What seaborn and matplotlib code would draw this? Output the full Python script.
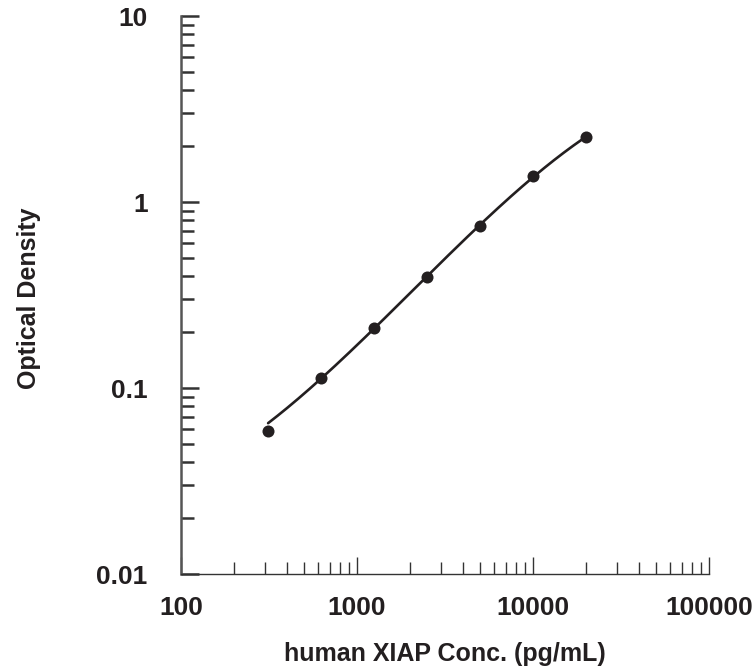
import numpy as np
import pandas as pd
import matplotlib
matplotlib.use("Agg")
import matplotlib.pyplot as plt
import seaborn as sns
from matplotlib.ticker import LogLocator, FixedLocator, FixedFormatter, NullFormatter

sns.set_theme(style="white")
plt.rcParams['font.family'] = ['Liberation Sans', 'DejaVu Sans']

# Data
concentration = [312.5, 625, 1250, 2500, 5000, 10000, 20000]
optical_density = [0.0585, 0.113, 0.209, 0.397, 0.746, 1.38, 2.23]
# fitted standard curve values read at the same concentrations
curve_od = [0.0645, 0.113, 0.209, 0.397, 0.746, 1.38, 2.23]

x_ticks = [100, 1000, 10000, 100000]
x_tick_labels = ["100", "1000", "10000", "100000"]
y_ticks = [0.01, 0.1, 1, 10]
y_tick_labels = ["0.01", "0.1", "1", "10"]

ink = "#231f20"

df = pd.DataFrame({"conc": concentration, "od": optical_density})

# smooth curve: cubic fit in log-log space of the read curve values
lx = np.log10(concentration)
coef = np.polyfit(lx, np.log10(curve_od), 3)
gx = np.linspace(lx[0], lx[-1], 200)
curve = pd.DataFrame({"conc": 10 ** gx, "od": 10 ** np.polyval(coef, gx)})

fig = plt.figure(figsize=(7.54, 6.69), dpi=100)
ax = fig.add_axes([181 / 754, 1 - 574 / 669, (709 - 181) / 754, (574 - 16) / 669])

sns.lineplot(data=curve, x="conc", y="od", ax=ax, color=ink, linewidth=1.9)
sns.scatterplot(data=df, x="conc", y="od", ax=ax, color=ink, s=75, edgecolor=ink, linewidth=0, zorder=5)

ax.set_xscale("log")
ax.set_yscale("log")
ax.set_xlim(100, 100000)
ax.set_ylim(0.01, 10)

ax.xaxis.set_major_locator(FixedLocator(x_ticks))
ax.xaxis.set_major_formatter(FixedFormatter(x_tick_labels))
ax.xaxis.set_minor_locator(LogLocator(base=10, subs=np.arange(2, 10)))
ax.xaxis.set_minor_formatter(NullFormatter())
ax.yaxis.set_major_locator(FixedLocator(y_ticks))
ax.yaxis.set_major_formatter(FixedFormatter(y_tick_labels))
ax.yaxis.set_minor_locator(LogLocator(base=10, subs=np.arange(2, 10)))
ax.yaxis.set_minor_formatter(NullFormatter())

for s in ["top", "right"]:
    ax.spines[s].set_visible(False)
ax.spines["left"].set_color("#555555")
ax.spines["left"].set_linewidth(1.8)
ax.spines["bottom"].set_color("#333333")
ax.spines["bottom"].set_linewidth(1.0)

ax.tick_params(axis="both", which="both", bottom=True, left=True, top=False, right=False)
ax.tick_params(axis="y", which="major", direction="in", length=13, width=1.8, color="#333333",
               pad=24, labelsize=19, labelcolor=ink)
ax.tick_params(axis="y", which="minor", direction="in", length=9, width=1.8, color="#333333")
ax.tick_params(axis="x", which="major", direction="in", length=12.5, width=1.0, color="#333333",
               pad=16, labelsize=19, labelcolor=ink)
ax.tick_params(axis="x", which="minor", direction="in", length=9, width=1.0, color="#333333")
for lab in ax.get_xticklabels() + ax.get_yticklabels():
    lab.set_fontweight("bold")

ax.set_xlabel("human XIAP Conc. (pg/mL)", fontsize=18, fontweight="bold", color=ink)
ax.set_ylabel("Optical Density", fontsize=18, fontweight="bold", color=ink)
ax.xaxis.set_label_coords(0.5, -0.122)
ax.yaxis.set_label_coords(-0.265, 0.495)
ax.grid(False)

fig.savefig("out.png", dpi=100)
